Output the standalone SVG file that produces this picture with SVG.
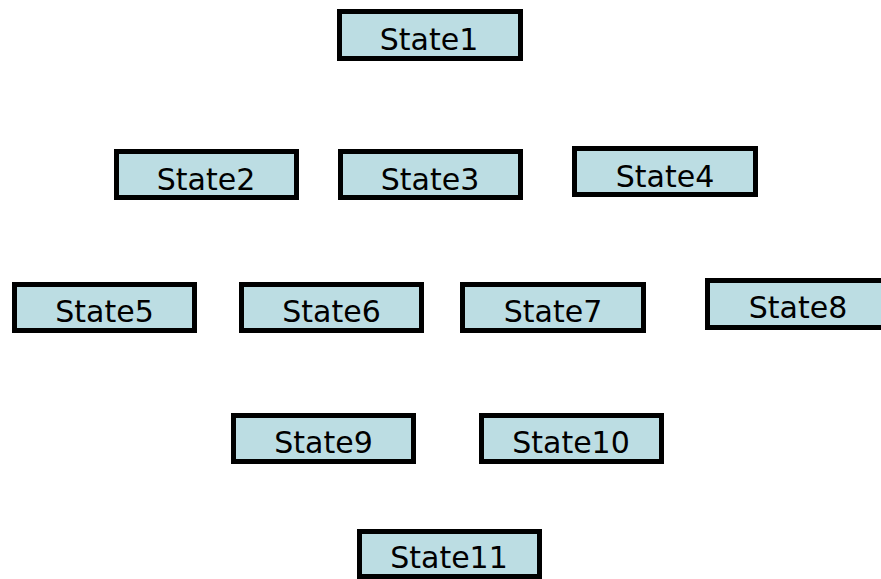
<svg xmlns="http://www.w3.org/2000/svg" width="881" height="579" viewBox="0 0 881 579">
<style>
.box{fill:#BCDDE3;stroke:#000;stroke-width:5}
.lbl{font-family:"DejaVu Sans","Liberation Sans",sans-serif;font-size:30px;fill:#000;text-anchor:middle}
</style>
<rect width="881" height="579" fill="#fff"/>
<g id="connectors"></g>
<g id="state1"><rect class="box" x="339.5" y="11.5" width="181" height="47"/><text class="lbl" x="429" y="50">State1</text></g>
<g id="state2"><rect class="box" x="116.5" y="151.5" width="180" height="46"/><text class="lbl" x="206" y="190">State2</text></g>
<g id="state3"><rect class="box" x="340.5" y="151.5" width="180" height="46"/><text class="lbl" x="430" y="190">State3</text></g>
<g id="state4"><rect class="box" x="574.5" y="148.5" width="181" height="46"/><text class="lbl" x="665" y="187">State4</text></g>
<g id="state5"><rect class="box" x="14.5" y="284.5" width="180" height="46"/><text class="lbl" x="104.5" y="322">State5</text></g>
<g id="state6"><rect class="box" x="241.5" y="284.5" width="180" height="46"/><text class="lbl" x="331.5" y="322">State6</text></g>
<g id="state7"><rect class="box" x="462.5" y="284.5" width="181" height="46"/><text class="lbl" x="553" y="322">State7</text></g>
<g id="state8"><rect class="box" x="707.5" y="280.5" width="190" height="47"/><text class="lbl" x="798" y="318">State8</text></g>
<g id="state9"><rect class="box" x="233.5" y="415.5" width="180" height="46"/><text class="lbl" x="323.5" y="453">State9</text></g>
<g id="state10"><rect class="box" x="481.5" y="415.5" width="180" height="46"/><text class="lbl" x="571" y="453">State10</text></g>
<g id="state11"><rect class="box" x="359.5" y="531.5" width="180" height="45"/><text class="lbl" x="449" y="568">State11</text></g>
</svg>
